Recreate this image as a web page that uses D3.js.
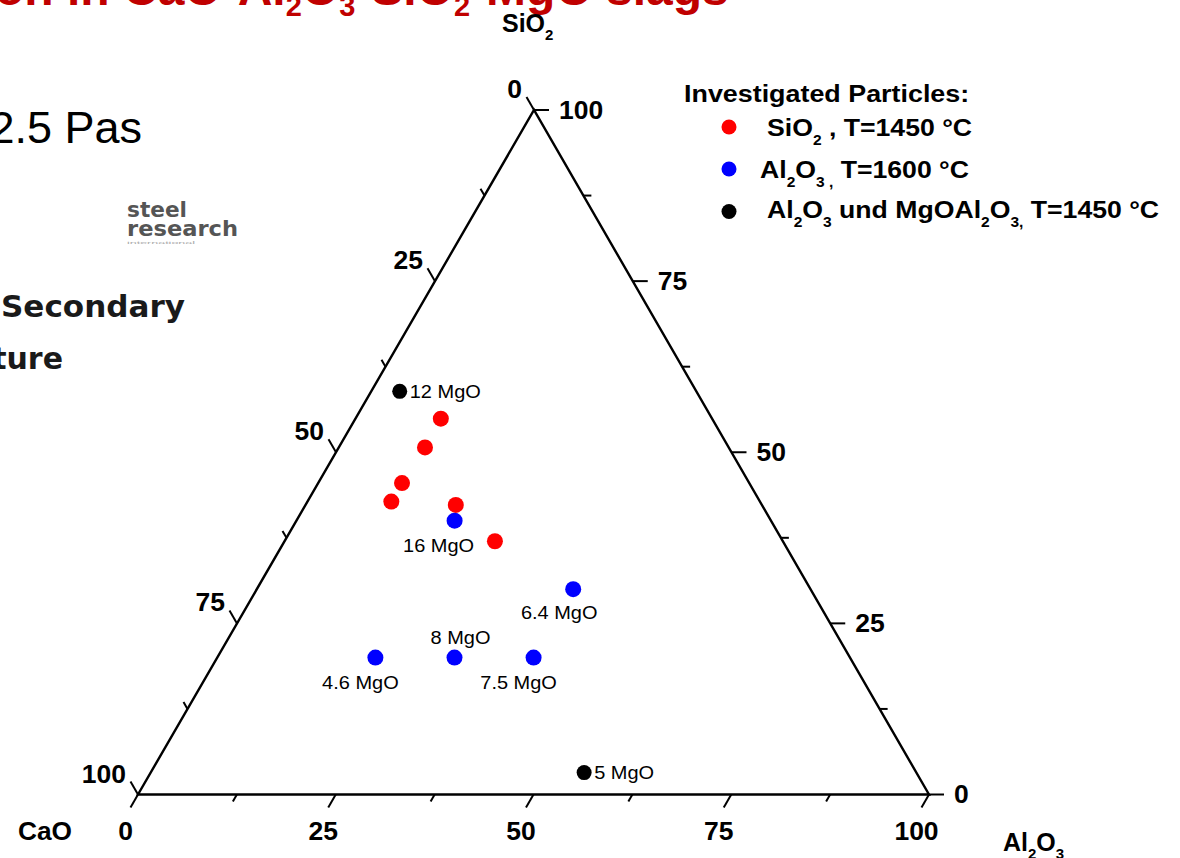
<!DOCTYPE html>
<html>
<head>
<meta charset="utf-8">
<script src="https://cdn.jsdelivr.net/npm/d3@7"></script>
<style>
  body { margin: 0; background: #fff; }
  svg { display: block; font-family: "Liberation Sans", Arial, sans-serif; }
</style>
</head>
<body>
<div id="chart"></div>
<script>
// compositions, each as [CaO, SiO2, Al2O3] in %
const sio2Particles = [
  [34.3, 54.9, 10.8],
  [38.4, 50.7, 10.9],
  [43.9, 45.5, 10.6],
  [46.6, 42.8, 10.6],
  [38.7, 42.3, 19.0],
  [36.4, 37.0, 26.6]
];
const al2o3Particles = [
  [40, 40, 20],
  [30, 30, 40],
  [60, 20, 20],
  [50, 20, 30],
  [40, 20, 40]
];
const al2o3Labels = ["16 MgO", "6.4 MgO", "4.6 MgO", "8 MgO", "7.5 MgO"];
const spinelParticles = [
  [37.5, 58.9, 3.6],
  [42.0, 3.2, 54.8]
];
const spinelLabels = ["12 MgO", "5 MgO"];
const majorTicks = [0, 25, 50, 75, 100];
const minorTicks = [12.5, 37.5, 62.5, 87.5];
const legendItems = [
  "SiO_{2} , T=1450 °C",
  "Al_{2}O_{3 ,} T=1600 °C",
  "Al_{2}O_{3} und MgOAl_{2}O_{3,} T=1450 °C"
];

var width = 1180, height = 858;

var svg = d3.select("#chart").append("svg")
  .attr("width", width)
  .attr("height", height);

// triangle corners
var cCaO = [138, 794.5], cAl = [929, 794.5], cSi = [534, 110];

var xAl = d3.scaleLinear().domain([0, 100]).range([0, cAl[0] - cCaO[0]]);
var xSi = d3.scaleLinear().domain([0, 100]).range([0, cSi[0] - cCaO[0]]);
var ySi = d3.scaleLinear().domain([0, 100]).range([cCaO[1], cSi[1]]);

function project(c, s, a) {
  var t = c + s + a;
  s = s * 100 / t; a = a * 100 / t;
  return [cCaO[0] + xAl(a) + xSi(s), ySi(s)];
}

// text with _{..} subscripts
function chemText(g, str, o) {
  var t = g.append("text")
    .attr("transform", `translate(${o.x},${o.y}) scale(${o.sx || 1},1)`)
    .attr("font-size", o.size)
    .attr("font-weight", o.weight || "bold")
    .attr("fill", o.fill || "#000")
    .attr("text-anchor", o.anchor || "start");
  if (o.family) t.attr("font-family", o.family);
  var parts = str.split(/(_\{[^}]*\})/).filter(p => p.length);
  var down = false;
  parts.forEach(p => {
    var sub = p.startsWith("_{");
    var ts = t.append("tspan").text(sub ? p.slice(2, -1) : p);
    if (sub) {
      ts.attr("font-size", o.subSize).attr("dy", down ? 0 : o.subDy);
      down = true;
    } else if (down) {
      ts.attr("dy", -o.subDy);
      down = false;
    }
  });
  return t;
}

/* background slide fragments */
chemText(svg, "on in CaO-Al_{2}O_{3}-SiO_{2}-MgO slags",
  {x: -5, y: 5, size: 48, subSize: 29, subDy: 11, fill: "#c00000"});

svg.append("text").attr("x", 142).attr("y", 143)
  .attr("text-anchor", "end").attr("font-size", 45)
  .attr("fill", "#000").text("2.5 Pas");

svg.append("text").attr("x", 127).attr("y", 217)
  .attr("font-family", "DejaVu Sans").attr("font-weight", "bold")
  .attr("font-size", 22).attr("fill", "#555")
  .attr("textLength", 60).attr("lengthAdjust", "spacingAndGlyphs").text("steel");
svg.append("text").attr("x", 127).attr("y", 236)
  .attr("font-family", "DejaVu Sans").attr("font-weight", "bold")
  .attr("font-size", 22).attr("fill", "#555")
  .attr("textLength", 111).attr("lengthAdjust", "spacingAndGlyphs").text("research");
svg.append("text").attr("x", 127).attr("y", 244)
  .attr("font-size", 4).attr("fill", "#aaa")
  .attr("textLength", 68).attr("lengthAdjust", "spacingAndGlyphs").text("international");

svg.append("text").attr("x", 1).attr("y", 317)
  .attr("font-family", "DejaVu Sans").attr("font-weight", "bold")
  .attr("font-size", 30).attr("fill", "#1a1a1a")
  .attr("textLength", 184).attr("lengthAdjust", "spacingAndGlyphs").text("Secondary");
svg.append("text").attr("x", 63).attr("y", 369)
  .attr("text-anchor", "end")
  .attr("font-family", "DejaVu Sans").attr("font-weight", "bold")
  .attr("font-size", 30).attr("fill", "#1a1a1a")
  .text("ture");

/* triangle */
var tri = svg.append("g").attr("class", "triangle");
tri.append("path")
  .attr("d", d3.line()([project(100, 0, 0), project(0, 0, 100), project(0, 100, 0)]) + "Z")
  .attr("fill", "none")
  .attr("stroke", "#000")
  .attr("stroke-width", 2.4)
  .attr("stroke-linejoin", "miter");

var allTicks = majorTicks.concat(minorTicks);
function tickLen(v) { return majorTicks.includes(v) ? 15 : 8; }

// bottom axis: Al2O3, ticks parallel to the CaO-SiO2 edge
var bottomAxis = tri.append("g").attr("class", "axis bottom");
bottomAxis.selectAll("line").data(allTicks).enter().append("line")
  .attr("x1", v => project(100 - v, 0, v)[0])
  .attr("y1", v => project(100 - v, 0, v)[1])
  .attr("x2", v => project(100 - v, 0, v)[0] - 0.5 * tickLen(v))
  .attr("y2", v => project(100 - v, 0, v)[1] + 0.866 * tickLen(v))
  .attr("stroke", "#000").attr("stroke-width", 2);
bottomAxis.selectAll("text").data(majorTicks).enter().append("text")
  .attr("transform", v => `translate(${project(100 - v, 0, v)[0] - 12.5},${cCaO[1] + 45.5}) scale(1.06,1)`)
  .attr("text-anchor", "middle")
  .attr("font-size", 25).attr("font-weight", "bold")
  .text(v => v);

// right axis: SiO2, horizontal ticks
var rightAxis = tri.append("g").attr("class", "axis right");
rightAxis.selectAll("line").data(allTicks).enter().append("line")
  .attr("x1", v => project(0, v, 100 - v)[0])
  .attr("y1", v => project(0, v, 100 - v)[1])
  .attr("x2", v => project(0, v, 100 - v)[0] + tickLen(v))
  .attr("y2", v => project(0, v, 100 - v)[1])
  .attr("stroke", "#000").attr("stroke-width", 2);
rightAxis.selectAll("text").data(majorTicks).enter().append("text")
  .attr("transform", v => `translate(${project(0, v, 100 - v)[0] + 25},${project(0, v, 100 - v)[1] + 8.5}) scale(1.06,1)`)
  .attr("font-size", 25).attr("font-weight", "bold")
  .text(v => v);

// left axis: CaO, ticks parallel to the SiO2-Al2O3 edge
var leftAxis = tri.append("g").attr("class", "axis left");
leftAxis.selectAll("line").data(allTicks).enter().append("line")
  .attr("x1", v => project(v, 100 - v, 0)[0])
  .attr("y1", v => project(v, 100 - v, 0)[1])
  .attr("x2", v => project(v, 100 - v, 0)[0] - 0.5 * tickLen(v))
  .attr("y2", v => project(v, 100 - v, 0)[1] - 0.866 * tickLen(v))
  .attr("stroke", "#000").attr("stroke-width", 2);
leftAxis.selectAll("text").data(majorTicks).enter().append("text")
  .attr("transform", v => `translate(${project(v, 100 - v, 0)[0] - 12},${project(v, 100 - v, 0)[1] - 12}) scale(1.06,1)`)
  .attr("text-anchor", "end")
  .attr("font-size", 25).attr("font-weight", "bold")
  .text(v => v);

// corner titles
chemText(svg, "SiO_{2}", {x: 502, y: 32, size: 25, subSize: 15, subDy: 8});
chemText(svg, "CaO", {x: 18, y: 840, size: 25, sx: 1.05});
chemText(svg, "Al_{2}O_{3}", {x: 1003, y: 851, size: 25, subSize: 15, subDy: 8});

/* particles */
var pts = svg.append("g").attr("class", "points");
var labelFont = 18.5;

pts.selectAll(".sio2").data(sio2Particles).enter().append("circle")
  .attr("class", "sio2")
  .attr("cx", d => project(d[0], d[1], d[2])[0])
  .attr("cy", d => project(d[0], d[1], d[2])[1])
  .attr("r", 8)
  .attr("fill", "#ff0000");

pts.selectAll(".al2o3").data(al2o3Particles).enter().append("circle")
  .attr("class", "al2o3")
  .attr("cx", d => project(d[0], d[1], d[2])[0])
  .attr("cy", d => project(d[0], d[1], d[2])[1])
  .attr("r", 8)
  .attr("fill", "#0000ff");

// label offsets for the Al2O3 particles (dx, dy from the dot)
var al2o3LabelPos = [[-16, 31], [-14, 30], [-15, 31], [6, -14], [-15, 31]];
pts.selectAll(".al2o3-label").data(al2o3Particles).enter().append("text")
  .attr("class", "al2o3-label")
  .attr("transform", (d, i) => {
    var p = project(d[0], d[1], d[2]);
    return `translate(${p[0] + al2o3LabelPos[i][0]},${p[1] + al2o3LabelPos[i][1]}) scale(1.08,1)`;
  })
  .attr("text-anchor", "middle")
  .attr("font-size", labelFont)
  .text((d, i) => al2o3Labels[i]);

pts.selectAll(".spinel").data(spinelParticles).enter().append("circle")
  .attr("class", "spinel")
  .attr("cx", d => project(d[0], d[1], d[2])[0])
  .attr("cy", d => project(d[0], d[1], d[2])[1])
  .attr("r", 7.5)
  .attr("fill", "#000");

pts.selectAll(".spinel-label").data(spinelParticles).enter().append("text")
  .attr("class", "spinel-label")
  .attr("transform", d => {
    var p = project(d[0], d[1], d[2]);
    return `translate(${p[0] + 10},${p[1] + 6.5}) scale(1.08,1)`;
  })
  .attr("font-size", labelFont)
  .text((d, i) => spinelLabels[i]);

/* legend */
var legend = svg.append("g").attr("class", "legend");
chemText(legend, "Investigated Particles:", {x: 684, y: 102, size: 24, sx: 1.12});
var legendColors = ["#ff0000", "#0000ff", "#000000"];
var legendY = [127, 169, 211.5];
var legendTextX = [767, 760, 767];
var legendBase = [136, 177.5, 218];
legendItems.forEach((s, i) => {
  legend.append("circle")
    .attr("cx", 729).attr("cy", legendY[i]).attr("r", 7.5)
    .attr("fill", legendColors[i]);
  chemText(legend, s, {x: legendTextX[i], y: legendBase[i], size: 24, subSize: 14, subDy: 9, sx: 1.11});
});
</script>
</body>
</html>
